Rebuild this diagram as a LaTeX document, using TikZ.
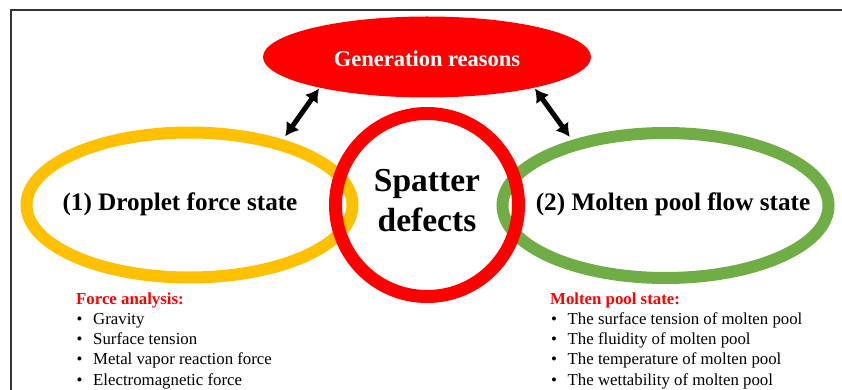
\documentclass[tikz,border=0pt]{standalone}
\usepackage{fontspec}
\setmainfont{Liberation Serif}
\usetikzlibrary{shapes.geometric,arrows.meta}

\definecolor{dropyellow}{HTML}{FFC000}
\definecolor{poolgreen}{HTML}{70AD47}
\definecolor{spatred}{HTML}{FF0000}
\definecolor{framegray}{HTML}{333333}

\tikzset{
  ring/.style={ellipse,draw=#1,line width=12pt,minimum width=326pt,minimum height=145pt,inner sep=0pt},
  twoway/.style={{Latex[length=13pt,width=16pt]}-{Latex[length=13pt,width=16pt]},line width=5pt,shorten <=1pt,shorten >=4pt},
  bigtext/.style={anchor=base,font=\fontsize{25.2}{30}\selectfont\bfseries},
  listhead/.style={anchor=base west,inner sep=0pt,text=spatred,font=\fontsize{16.8}{20}\selectfont\bfseries},
  listitem/.style={anchor=base west,inner sep=0pt,font=\fontsize{16.8}{20}\selectfont}
}
\newcommand{\bul}{\makebox[16.5pt][l]{\textbullet}}

\begin{document}
\begin{tikzpicture}[x=1pt,y=-1pt]
\useasboundingbox (0,0) rectangle (842,390);

% frame, open to the right and bottom
\draw[framegray,line width=1.4pt] (842,10) -- (11,10) -- (11,390);

% the two states, then the red ring on top of them
\node (drop) at (189.5,205) [ring=dropyellow] {};
\node (pool) at (665.5,205.5) [ring=poolgreen] {};
\node (spat) at (427,205) [circle,draw=spatred,line width=13pt,minimum size=183pt] {};

\node (gen) at (427,57) [ellipse,fill=spatred,minimum width=328pt,minimum height=81pt,
  text height=20pt,text depth=0pt,text=white,font=\fontsize{22.5}{27}\selectfont\bfseries] {Generation reasons};

\node (droptext) at (180,210) [bigtext] {(1) Droplet force state};
\node (pooltext) at (673,210) [bigtext] {(2) Molten pool flow state};
\node (spattext) at (427,200.5) [align=center,font=\fontsize{33.5}{40}\selectfont\bfseries] {Spatter\\defects};

\draw[twoway] (gen.196) -- (drop.35);
\draw[twoway] (gen.-16) -- (pool.145);

% left list
\node (forcehead) at (76,304) [listhead] {Force analysis:};
\node (force1) at (76.5,324.3) [listitem] {\bul Gravity};
\node (force2) at (76.5,344.6) [listitem] {\bul Surface tension};
\node (force3) at (76.5,364.9) [listitem] {\bul Metal vapor reaction force};
\node (force4) at (76.5,385.2) [listitem] {\bul Electromagnetic force};

% right list
\node (poolhead) at (550,304) [listhead] {Molten pool state:};
\node (pool1) at (551,324.3) [listitem] {\bul The surface tension of molten pool};
\node (pool2) at (551,344.6) [listitem] {\bul The fluidity of molten pool};
\node (pool3) at (551,364.9) [listitem] {\bul The temperature of molten pool};
\node (pool4) at (551,385.2) [listitem] {\bul The wettability of molten pool};
\end{tikzpicture}
\end{document}
